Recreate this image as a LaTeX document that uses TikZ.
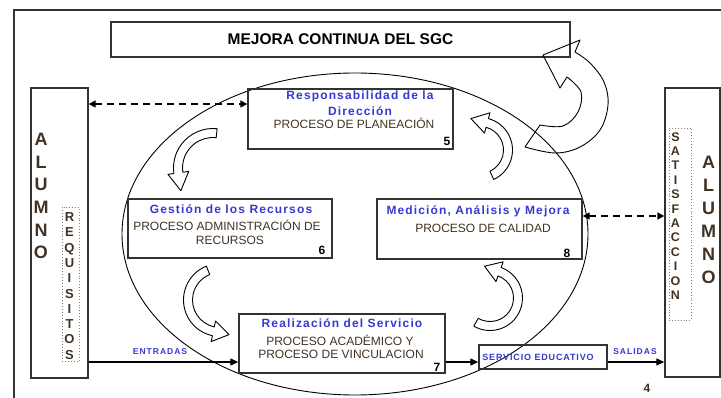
\documentclass[tikz,border=0pt]{standalone}
\usepackage{fontspec}
\setmainfont{Liberation Sans}
\newfontfamily\spaced[LetterSpace=9.5]{Liberation Sans}
\newfontfamily\spacedb[LetterSpace=12]{Liberation Sans}
\usetikzlibrary{arrows.meta,calc}
\definecolor{bluet}{RGB}{55,55,210}
\definecolor{darkt}{RGB}{65,50,35}
\definecolor{linec}{RGB}{50,50,50}
\tikzset{
  box/.style={draw=linec,line width=1.4pt,inner sep=0pt},
  dotbox/.style={draw=gray,dotted,line width=0.9pt,inner sep=0pt},
  ttl/.style={font=\spaced\bfseries\fontsize{12}{14}\selectfont,text=bluet,anchor=base,inner sep=0pt},
  proc/.style={font=\fontsize{12}{14}\selectfont,text=darkt,anchor=base,inner sep=0pt},
  num/.style={font=\bfseries\fontsize{12}{14}\selectfont,text=black,anchor=base,inner sep=0pt},
  lbl/.style={font=\spacedb\bfseries\fontsize{8.5}{10}\selectfont,text=bluet,anchor=base,inner sep=0pt},
  vert/.style={align=center,text=darkt,inner sep=0pt,anchor=center},
  dasharr/.style={line width=1.6pt,dash pattern=on 7pt off 5pt,{Triangle[length=7pt,width=7pt]}-{Triangle[length=7pt,width=7pt]}},
  solarr/.style={line width=1.2pt,-{Triangle[length=8pt,width=7pt]}},
  cbshape/.style={draw=black,line width=0.9pt,line join=round}
}
\newcommand\cbarrow[8]{%
  \pgfmathsetmacro\cbRo{#3+#4}%
  \pgfmathsetmacro\cbRi{#3-#4}%
  \pgfmathsetmacro\cbHo{#3+#4+#7}%
  \pgfmathsetmacro\cbHi{#3-#4-#7}%
  \pgfmathsetmacro\cbDir{#6>#5 ? #6+90 : #6-90}%
  \draw[cbshape] ($(#1,#2)+(#5:\cbRo)$) arc[start angle=#5,end angle=#6,radius=\cbRo]
    -- ($(#1,#2)+(#6:\cbHo)$)
    -- ($(#1,#2)+(#6:#3)+(\cbDir:#8)$)
    -- ($(#1,#2)+(#6:\cbHi)$)
    -- ($(#1,#2)+(#6:\cbRi)$)
    arc[start angle=#6,end angle=#5,radius=\cbRi] -- cycle;}
\begin{document}
\begin{tikzpicture}[x=1pt,y=1pt,yscale=-1]
\useasboundingbox (0,0) rectangle (721,398);
% frame
\draw[line width=2pt,color=linec] (14,398) -- (14,10) -- (721,10);
% ellipse
\draw[line width=0.9pt] (355,234) ellipse [x radius=233, y radius=161];
% boxes
\node[box,minimum width=459pt,minimum height=35pt] (mejora) at (340.5,39.5) {};
\node[font=\bfseries\fontsize{15.5}{18}\selectfont,anchor=base,inner sep=0pt] (mejoratxt) at (340.5,45) {MEJORA CONTINUA DEL SGC};
\node[box,minimum width=57pt,minimum height=290pt] (alL) at (59.5,233) {};
\node[box,minimum width=55pt,minimum height=289pt] (alR) at (692.5,232.5) {};
\node[box,minimum width=205pt,minimum height=60pt] (resp) at (350.5,119) {};
\node[box,minimum width=204pt,minimum height=59pt] (gest) at (230,228.5) {};
\node[box,minimum width=205pt,minimum height=60pt] (med) at (479.5,229) {};
\node[box,minimum width=206pt,minimum height=59pt] (real) at (342,343.5) {};
\node[box,minimum width=128pt,minimum height=24pt] (serv) at (543,357) {};
\node[dotbox,minimum width=17pt,minimum height=154pt] (reqbox) at (70.5,284) {};
\node[dotbox,minimum width=22pt,minimum height=192pt] (satbox) at (680,224) {};
% vertical texts
\node[vert,font=\bfseries\fontsize{18}{22.7}\selectfont] (alLtxt) at (41,196) {A\\L\\U\\M\\N\\O};
\node[vert,font=\bfseries\fontsize{18}{22.9}\selectfont] (alRtxt) at (708.5,220) {A\\L\\U\\M\\N\\O};
\node[vert,font=\bfseries\fontsize{13}{15.3}\selectfont] (reqtxt) at (69.5,286) {R\\E\\Q\\U\\I\\S\\I\\T\\O\\S};
\node[vert,font=\bfseries\fontsize{12.5}{14.4}\selectfont] (sattxt) at (675.5,216) {S\\A\\T\\I\\S\\F\\A\\C\\C\\I\\O\\N};
% box texts
\node[ttl] (r1) at (360,100) {Responsabilidad de la};
\node[ttl] (r2) at (360,116) {Dirección};
\node[proc] (r3) at (354,129) {PROCESO DE PLANEACIÓN};
\node[num] (r4) at (447,146) {5};
\node[ttl] (g1) at (231,214) {Gestión de los Recursos};
\node[proc] (g2) at (227,231) {PROCESO ADMINISTRACIÓN DE};
\node[proc] (g3) at (230,245) {RECURSOS};
\node[num] (g4) at (322,255) {6};
\node[ttl] (m1) at (478,215) {Medición, Análisis y Mejora};
\node[proc] (m2) at (483,233) {PROCESO DE CALIDAD};
\node[num] (m3) at (567,258) {8};
\node[ttl] (e1) at (342,328) {Realización del Servicio};
\node[proc] (e2) at (340,346) {PROCESO ACADÉMICO Y};
\node[proc] (e3) at (341,359) {PROCESO DE VINCULACION};
\node[num] (e4) at (437,372) {7};
\node[font=\spaced\bfseries\fontsize{9}{10}\selectfont,text=bluet,anchor=base,inner sep=0pt] (servtxt) at (538,360.5) {SERVICIO EDUCATIVO};
\node[lbl] (entr) at (160,355) {ENTRADAS};
\node[lbl] (sal) at (635,355) {SALIDAS};
\node[num,text=darkt] (four) at (647,392) {4};
% connectors
\draw[dasharr] (alL.east |- 0,104) -- (resp.west |- 0,104);
\draw[dasharr] (med.east |- 0,216) -- (alR.west |- 0,216);
\draw[solarr] (alL.east |- 0,362) -- (real.west |- 0,362);
\draw[solarr] (real.east |- 0,362) -- (serv.west |- 0,362);
\draw[solarr] (serv.east |- 0,362) -- (alR.west |- 0,362);
% curved block arrows
\cbarrow{213}{168}{35}{4.5}{-84}{-188}{6}{18}
\cbarrow{480}{150}{28}{4.5}{65}{-75}{6}{17}
\cbarrow{220}{300}{32}{4.5}{-112}{-258}{6}{16}
\cbarrow{490}{298}{28}{4.5}{120}{-70}{6}{16}
% big arrow to MEJORA
\draw[cbshape] plot[smooth,tension=0.6] coordinates {(575,52) (590,63) (604,82) (608,105) (600,130) (580,147) (555,153) (525,147)}
  -- (540,125) -- plot[smooth,tension=0.6] coordinates {(540,125) (563,126) (578,112) (581,92) (567,77)}
  -- (560,88) -- (543,55) -- (580,40) -- cycle;
\end{tikzpicture}
\end{document}
